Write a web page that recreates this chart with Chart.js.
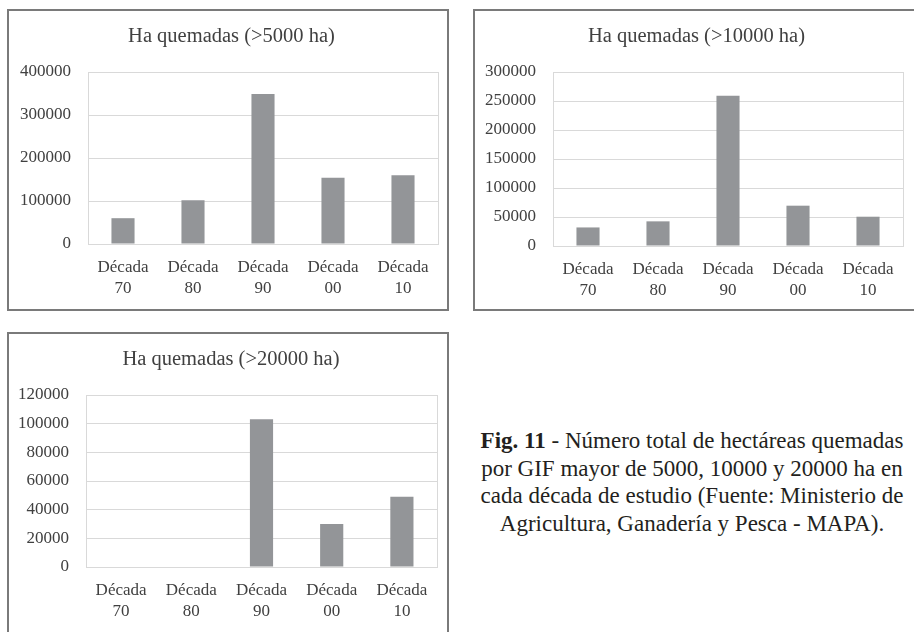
<!DOCTYPE html>
<html>
<head>
<meta charset="utf-8">
<script src="https://cdn.jsdelivr.net/npm/chart.js@4.4.1/dist/chart.umd.min.js"></script>
<style>
	body { margin: 0; background: #fff; width: 914px; height: 632px; overflow: hidden; position: relative; }
	.caja { position: absolute; box-sizing: border-box; border: 2px solid #7a7a7a; background: #fff; }
	.caja canvas { display: block; }
	#pie { position: absolute; left: 470px; top: 427px; width: 444px; text-align: center;
		font-family: "Liberation Serif", serif; font-size: 23px; line-height: 27.5px; color: #231f20; }
</style>
</head>
<body>

<div class="caja" style="left:7px; top:9px; width:442px; height:302px;">
	<canvas id="chart5000" width="438" height="298"></canvas>
</div>
<div class="caja" style="left:473px; top:9px; width:443px; height:302px;">
	<canvas id="chart10000" width="439" height="298"></canvas>
</div>
<div class="caja" style="left:7px; top:332px; width:442px; height:310px;">
	<canvas id="chart20000" width="438" height="306"></canvas>
</div>

<div id="pie"><b>Fig. 11</b> - Número total de hectáreas quemadas<br>por GIF mayor de 5000, 10000 y 20000 ha en<br>cada década de estudio (Fuente: Ministerio de<br>Agricultura, Ganadería y Pesca - MAPA).</div>

<script>
var decadas = [['Década', '70'], ['Década', '80'], ['Década', '90'], ['Década', '00'], ['Década', '10']];

var ha5000 = [60000, 102000, 349000, 154000, 160000];
var ha10000 = [32000, 42500, 259000, 69500, 50500];
var ha20000 = [0, 0, 103000, 30000, 49000];

var ticks5000 = [0, 100000, 200000, 300000, 400000];
var ticks10000 = [0, 50000, 100000, 150000, 200000, 250000, 300000];
var ticks20000 = [0, 20000, 40000, 60000, 80000, 100000, 120000];

var titulo5000 = 'Ha quemadas (>5000 ha)';
var titulo10000 = 'Ha quemadas (>10000 ha)';
var titulo20000 = 'Ha quemadas (>20000 ha)';

var gris = '#939598';
var lineas = '#d9d9d9';
var texto = '#404040';

document.addEventListener('DOMContentLoaded', function() {
	Chart.defaults.font.family = '"Liberation Serif", serif';
	Chart.defaults.color = texto;

	// left = margen izq., yWidth = eje y, right = hueco a la derecha del area
	drawChart('chart5000', titulo5000, ha5000, ticks5000, {left: 7, yWidth: 72, xHeight: 65, right: 9});
	drawChart('chart10000', titulo10000, ha10000, ticks10000, {left: 4, yWidth: 74, xHeight: 63, right: 11});
	drawChart('chart20000', titulo20000, ha20000, ticks20000, {left: 6, yWidth: 71, xHeight: 73, right: 10});
});

function drawChart(id, titulo, valores, yTicks, caja) {
	var ctx = document.getElementById(id).getContext('2d');
	return new Chart(ctx, {
		type: 'bar',
		data: {
			labels: decadas,
			datasets: [{
				data: valores,
				backgroundColor: gris,
				borderWidth: 0,
				categoryPercentage: 1,
				barPercentage: 0.33
			}]
		},
		options: {
			responsive: false,
			animation: false,
			devicePixelRatio: 1,
			layout: { padding: { left: caja.left, right: 0, top: 0, bottom: 0 } },
			plugins: {
				legend: { display: false },
				tooltip: { enabled: false },
				title: {
					display: true,
					text: titulo,
					color: texto,
					font: { size: 20.5, weight: 'normal', lineHeight: 1.2 },
					padding: { top: 13, bottom: 23.4 }
				}
			},
			scales: {
				x: {
					grid: { display: false, drawTicks: false },
					border: { display: true, color: lineas, width: 1 },
					ticks: { font: { size: 17, lineHeight: 1.25 }, color: texto, padding: 13, maxRotation: 0, autoSkip: false },
					afterFit: function(s) { s.height = caja.xHeight; }
				},
				y: {
					min: yTicks[0],
					max: yTicks[yTicks.length - 1],
					grid: { color: lineas, lineWidth: 1, drawTicks: false },
					border: { display: true, color: lineas, width: 1 },
					ticks: {
						font: { size: 17 },
						color: texto,
						padding: 17,
						callback: function(v) { return String(v); }
					},
					afterBuildTicks: function(s) {
						s.ticks = yTicks.map(function(v) { return { value: v }; });
					},
					afterFit: function(s) { s.width = caja.yWidth; }
				},
				y2: {
					position: 'right',
					min: yTicks[0],
					max: yTicks[yTicks.length - 1],
					grid: { display: false, drawTicks: false },
					border: { display: true, color: lineas, width: 1 },
					ticks: { display: false },
					afterFit: function(s) { s.width = caja.right; }
				}
			}
		}
	});
}
</script>
</body>
</html>
